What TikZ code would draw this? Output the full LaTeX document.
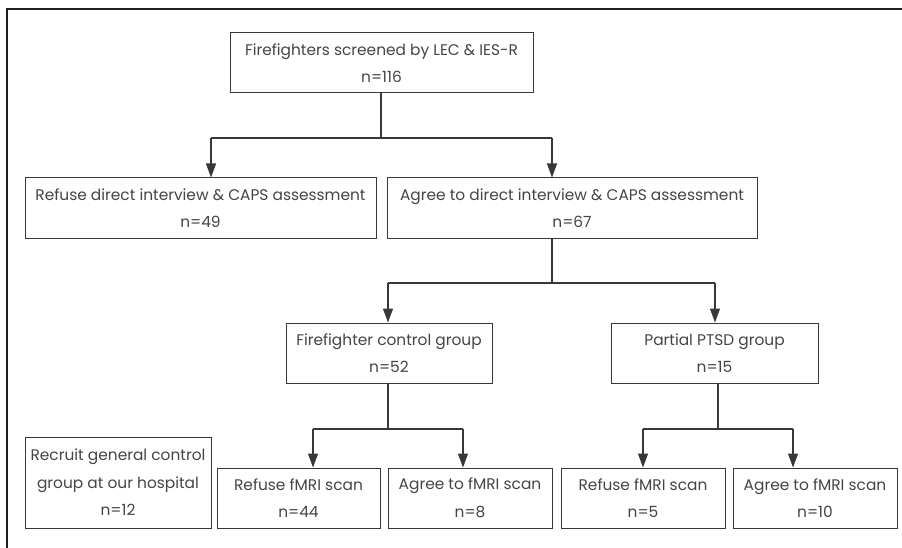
\documentclass[tikz,border=0pt]{standalone}
\usepackage{fontspec}
\setmainfont{Poppins}
\usetikzlibrary{arrows.meta}
\definecolor{lncol}{HTML}{383838}
\definecolor{txcol}{HTML}{444444}
\begin{document}
\begin{tikzpicture}[x=1pt,y=-1pt,
  box/.style={draw=lncol, line width=1pt, inner sep=0pt, align=center, text=txcol,
    font=\fontsize{15.4}{27.5}\selectfont, minimum height=60pt},
  conn/.style={draw=lncol, line width=1.1pt},
  arr/.style={draw=lncol, line width=1.1pt, -{Triangle[length=14pt,width=10pt]}}]
\useasboundingbox (0,0) rectangle (902,548);
\draw[line width=1.2pt, color=black!88] (902,9) -- (7,9) -- (7,548);

\node[box, minimum width=303pt] (top) at (381.5,63) {Firefighters screened by LEC \& IES-R\\n=116};
\node[box, minimum width=351pt] (ref1) at (200.5,208) {Refuse direct interview \& CAPS assessment\\n=49};
\node[box, minimum width=370pt] (agr1) at (572,208) {Agree to direct interview \& CAPS assessment\\n=67};
\node[box, minimum width=206pt] (fcg) at (389,353) {Firefighter control group\\n=52};
\node[box, minimum width=207pt] (ptsd) at (714.5,353) {Partial PTSD group\\n=15};
\node[box, minimum width=186pt, minimum height=91pt] (rec) at (118,482.5) {Recruit general control\\group at our hospital\\n=12};
\node[box, minimum width=163pt] (r44) at (298.5,498) {Refuse fMRI scan\\n=44};
\node[box, minimum width=164pt] (a8) at (470,498) {Agree to fMRI scan\\n=8};
\node[box, minimum width=164pt] (r5) at (643,498) {Refuse fMRI scan\\n=5};
\node[box, minimum width=164pt] (a10) at (815,498) {Agree to fMRI scan\\n=10};

% level 1
\coordinate (j1) at (381,138);
\coordinate (j1l) at (211,138);
\coordinate (j1r) at (552,138);
\draw[conn] (top.south -| j1) -- (j1);
\draw[conn] (j1l) -- (j1r);
\draw[arr] (j1l) -- (j1l |- ref1.north);
\draw[arr] (j1r) -- (j1r |- agr1.north);

% level 2
\coordinate (j2) at (552,283);
\coordinate (j2l) at (388,283);
\coordinate (j2r) at (715,283);
\draw[conn] (agr1.south -| j2) -- (j2);
\draw[conn] (j2l) -- (j2r);
\draw[arr] (j2l) -- (j2l |- fcg.north);
\draw[arr] (j2r) -- (j2r |- ptsd.north);

% level 3 left
\coordinate (j3) at (388,429);
\coordinate (j3l) at (313,429);
\coordinate (j3r) at (463,429);
\draw[conn] (fcg.south -| j3) -- (j3);
\draw[conn] (j3l) -- (j3r);
\draw[arr] (j3l) -- (j3l |- r44.north);
\draw[arr] (j3r) -- (j3r |- a8.north);

% level 3 right
\coordinate (j4) at (718,429);
\coordinate (j4l) at (643,429);
\coordinate (j4r) at (793,429);
\draw[conn] (ptsd.south -| j4) -- (j4);
\draw[conn] (j4l) -- (j4r);
\draw[arr] (j4l) -- (j4l |- r5.north);
\draw[arr] (j4r) -- (j4r |- a10.north);
\end{tikzpicture}
\end{document}
